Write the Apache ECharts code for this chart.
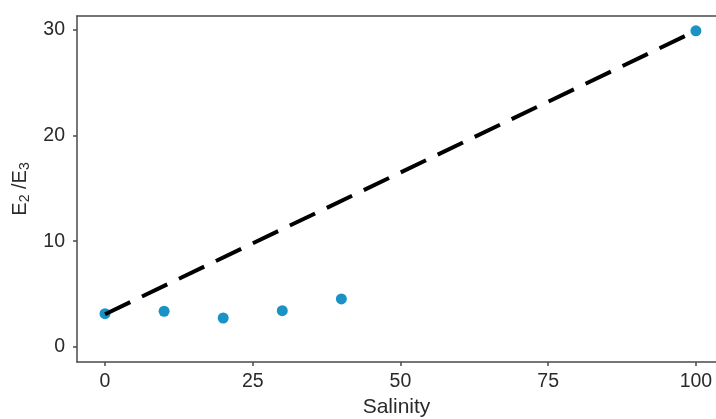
<!DOCTYPE html>
<html>
<head>
<meta charset="utf-8">
<script src="https://cdn.jsdelivr.net/npm/echarts@6/dist/echarts.min.js"></script>
<style>html,body{margin:0;padding:0;background:#fff;}#c{width:716px;height:419px;}</style>
</head>
<body>
<div id="c"></div>
<script>
const salinity = [0, 10, 20, 30, 40, 100];
const e2e3 = [3.15, 3.38, 2.74, 3.43, 4.54, 29.9];
const mixLineX = [0, 100];
const mixLineY = [3.1, 29.9];
const xTicks = [0, 25, 50, 75, 100];
const yTicks = [0, 10, 20, 30];

const axisCol = '#4a4a4a';
const labelCol = '#2a2a2a';
const font = 'Liberation Sans, Arial, sans-serif';

const chart = echarts.init(document.getElementById('c'), null, {renderer: 'canvas'});
chart.setOption({
  animation: false,
  backgroundColor: '#fff',
  grid: {left: 77, top: 16, right: 0, bottom: 57, containLabel: false, outerBoundsMode: 'none'},
  xAxis: [{
    type: 'value', min: -4.74, max: 103.4,
    name: 'Salinity', nameLocation: 'middle', nameGap: 31,
    nameTextStyle: {color: labelCol, fontSize: 21, fontFamily: font},
    axisLine: {show: true, onZero: false, lineStyle: {color: axisCol, width: 1.5}},
    axisTick: {show: true, length: 4, customValues: xTicks, lineStyle: {color: axisCol, width: 1.5}},
    axisLabel: {customValues: xTicks, color: labelCol, fontSize: 19.5, fontFamily: font, margin: 10},
    splitLine: {show: false}
  }, {
    type: 'value', position: 'top', min: -4.74, max: 103.4,
    axisLine: {show: true, onZero: false, lineStyle: {color: axisCol, width: 1.5}},
    axisTick: {show: false}, axisLabel: {show: false}, splitLine: {show: false}
  }],
  yAxis: {
    type: 'value', min: -1.42, max: 31.3,
    name: 'E{sub|2} /E{sub|3}', nameLocation: 'middle', nameGap: 42, nameRotate: 90,
    nameTextStyle: {
      color: labelCol, fontSize: 20, fontFamily: font,
      rich: {sub: {fontSize: 14, fontFamily: font, color: labelCol, padding: [10, 0, 0, 0]}}
    },
    axisLine: {show: true, onZero: false, lineStyle: {color: axisCol, width: 1.5}},
    axisTick: {show: true, length: 4, customValues: yTicks, lineStyle: {color: axisCol, width: 1.5}},
    axisLabel: {customValues: yTicks, color: labelCol, fontSize: 19.5, fontFamily: font, margin: 12},
    splitLine: {show: false}
  },
  series: [{
    type: 'line',
    data: mixLineX.map((x, i) => [x, mixLineY[i]]),
    showSymbol: false, symbol: 'none',
    lineStyle: {color: '#000', width: 4, type: [28, 13], cap: 'butt'},
    z: 3
  }, {
    type: 'scatter',
    data: salinity.map((x, i) => [x, e2e3[i]]),
    symbolSize: 11,
    itemStyle: {color: '#1a93c4', opacity: 1},
    z: 2
  }]
});
</script>
</body>
</html>
